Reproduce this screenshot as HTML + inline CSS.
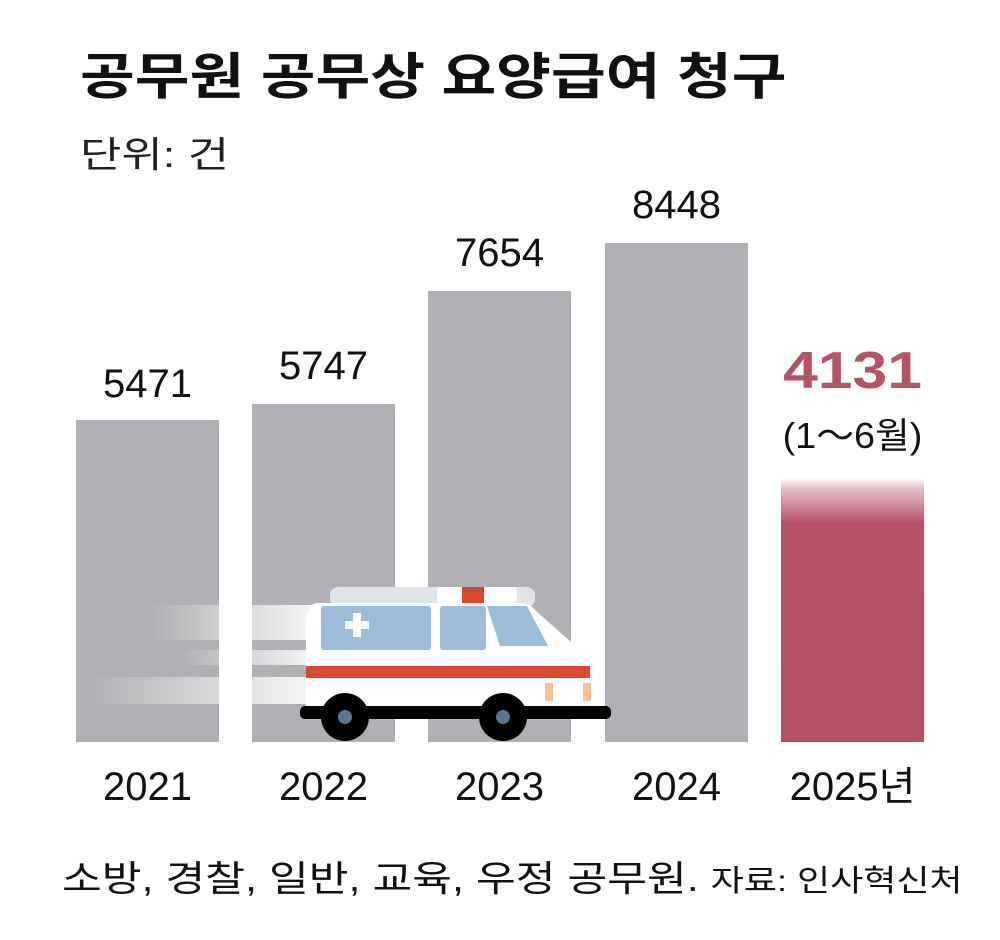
<!DOCTYPE html>
<html><head><meta charset="utf-8"><style>
body{margin:0;background:#fff;width:1000px;height:940px;overflow:hidden;font-family:"Liberation Sans","Noto Sans CJK KR",sans-serif;}
.a{position:absolute;white-space:nowrap;line-height:1;transform-origin:0 0}
.bar{position:absolute;background:#b1b1b5}
.v{position:absolute;width:143px;text-align:center;font-size:39px;color:#111;line-height:1;white-space:nowrap}
</style></head><body>
<div class="a" style="left:80px;top:52px;font-size:50px;font-weight:bold;color:#111;transform:scaleX(1.19)">공무원 공무상 요양급여 청구</div>
<div class="a" style="left:80px;top:137px;font-size:36px;color:#222;transform:scaleX(1.25)">단위: 건</div>

<div class="bar" style="left:76px;top:420px;width:143px;height:322px"></div>
<div class="bar" style="left:252px;top:404px;width:143px;height:338px"></div>
<div class="bar" style="left:428px;top:291px;width:143px;height:451px"></div>
<div class="bar" style="left:605px;top:243px;width:143px;height:499px"></div>
<div class="bar" style="left:781px;top:478px;width:143px;height:264px;background:linear-gradient(#fff 0px,#e6c2cb 10px,#b65266 45px,#b35064 100%)"></div>

<div class="v" style="left:76px;top:364px;font-size:40px">5471</div>
<div class="v" style="left:252px;top:346px;font-size:40px">5747</div>
<div class="v" style="left:428px;top:233px;font-size:40px">7654</div>
<div class="v" style="left:605px;top:185px;font-size:40px">8448</div>
<div class="v" style="left:781px;top:345px;font-size:52px;font-weight:bold;color:#b65266;transform:scaleX(1.2)">4131</div>
<div class="v" style="left:781px;top:418px;font-size:36px;transform:scaleX(1.05)">(1～6월)</div>

<svg style="position:absolute;left:0;top:0" width="1000" height="940">
<defs><linearGradient id="g" x1="0" x2="1"><stop offset="0" stop-color="#fff" stop-opacity="0"/><stop offset="1" stop-color="#fff" stop-opacity="0.9"/></linearGradient></defs>
<rect x="150" y="605" width="165" height="35" fill="url(#g)"/>
<rect x="180" y="650" width="135" height="15" fill="url(#g)"/>
<rect x="90" y="677" width="225" height="27" fill="url(#g)"/>
<rect x="330" y="587" width="205" height="20" rx="8" fill="#dfe4ea"/>
<rect x="437" y="587" width="80" height="16" rx="3" fill="#fff"/>
<rect x="462" y="587" width="22" height="16" fill="#d9472f"/>
<path d="M318 603 H520 Q530 603 535 610 L580 650 L590 680 L590 715 H306 V625 Q306 603 318 603Z" fill="#fff"/>
<rect x="321" y="606" width="110" height="44" rx="3" fill="#9dbcd9"/>
<rect x="440" y="606" width="46" height="44" rx="3" fill="#9dbcd9"/>
<path d="M487 606 H527 L548 646 H500Z" fill="#9dbcd9"/>
<path d="M345 621 h8 v-8 h8 v8 h8 v8 h-8 v8 h-8 v-8 h-8z" fill="#fff"/>
<rect x="306" y="666" width="284" height="12" fill="#d9472f"/>
<rect x="300" y="706" width="311" height="13" rx="5" fill="#000"/>
<circle cx="345" cy="717" r="24" fill="#000"/><circle cx="345" cy="717" r="7" fill="#5a7690"/>
<circle cx="503" cy="717" r="24" fill="#000"/><circle cx="503" cy="717" r="7" fill="#5a7690"/>
<rect x="545" y="683" width="8" height="18" fill="#f5c196"/>
<rect x="583" y="683" width="8" height="18" fill="#f5c196"/>
</svg>

<div class="v" style="left:76px;top:767px;font-size:40px">2021</div>
<div class="v" style="left:252px;top:767px;font-size:40px">2022</div>
<div class="v" style="left:428px;top:767px;font-size:40px">2023</div>
<div class="v" style="left:605px;top:767px;font-size:40px">2024</div>
<div class="v" style="left:771px;top:767px;width:163px;font-size:40px">2025년</div>

<div class="a" style="left:62px;top:861px;font-size:36px;color:#111;transform:scaleX(1.2)">소방, 경찰, 일반, 교육, 우정 공무원. <span style="font-size:30px">자료: 인사혁신처</span></div>
</body></html>
